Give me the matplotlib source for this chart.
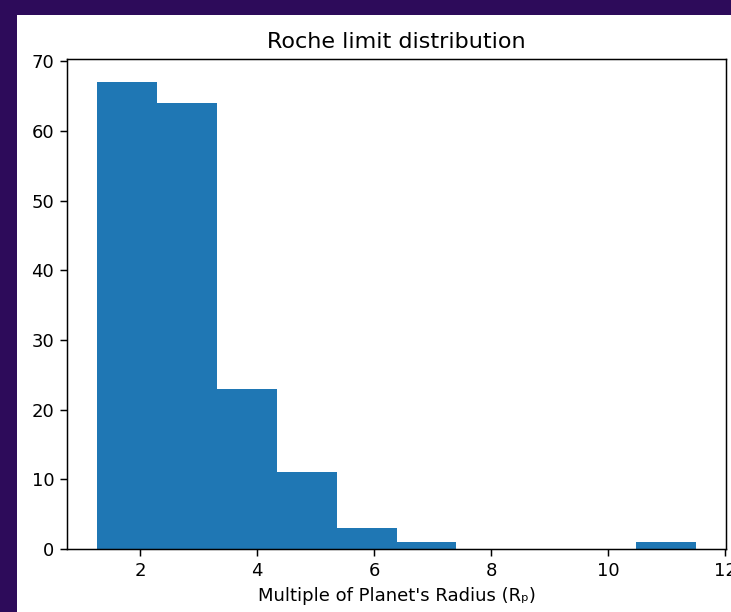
import matplotlib.pyplot as plt

# Histogram counts and bin edges
bin_edges = [1.26, 2.284, 3.308, 4.332, 5.356, 6.38, 7.404, 8.428, 9.452, 10.476, 11.50]
counts = [67, 64, 23, 11, 3, 1, 0, 0, 0, 1]

W, H = 731, 612
fig = plt.figure(figsize=(W / 100, H / 100), dpi=100)
fig.patch.set_facecolor('#2d0b5a')

# white page area of the screenshot
page = fig.add_axes([17 / W, 0, 1 - 17 / W, 1 - 15 / H], zorder=0)
page.set_facecolor('white')
page.set_xticks([])
page.set_yticks([])
for s in page.spines.values():
    s.set_visible(False)

ax = fig.add_axes([67 / W, 1 - 549 / H, 659 / W, 490 / H], zorder=1)
ax.hist(bin_edges[:-1], bins=bin_edges, weights=counts, color='#1f77b4')

ax.set_title('Roche limit distribution', fontsize=16, pad=8)
ax.set_xlabel("Multiple of Planet's Radius (Rₚ)", fontsize=13, labelpad=5)
ax.tick_params(labelsize=13, width=1.07, length=4.7, pad=4.5)
for s in ax.spines.values():
    s.set_linewidth(1.07)

fig.savefig('out.png', dpi=100, facecolor=fig.get_facecolor())
plt.close(fig)
